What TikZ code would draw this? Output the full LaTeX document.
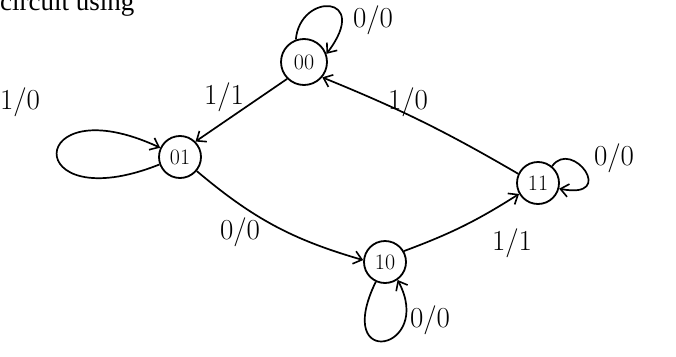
\documentclass[tikz,border=0pt]{standalone}
\usepackage{fontspec}
\newfontfamily\headfont{Liberation Serif}
\usetikzlibrary{arrows.meta}
\begin{document}
\begin{tikzpicture}[x=1pt,y=-1pt,
  state/.style={draw,circle,line width=1.8pt,minimum size=42pt,inner sep=0pt,font=\fontsize{22}{22}\selectfont},
  edge/.style={line width=1.7pt,-{Straight Barb[length=8pt,width=13pt,line width=1.6pt]}},
  lbl/.style={font=\fontsize{29}{29}\selectfont,inner sep=1pt}]
\useasboundingbox (0,0) rectangle (676,356);
\clip (0,0) rectangle (676,356);
\node[anchor=base west,font=\headfont\fontsize{27}{27}\selectfont,inner sep=0pt] (head) at (0,10) {circuit using};
\node[state,minimum size=46pt] (s00) at (304,62) {00};
\node[state] (s01) at (180,157) {01};
\node[state] (s10) at (385,262) {10};
\node[state] (s11) at (538,183) {11};
% self loops
\draw[edge] (s00.110) .. controls (300,-8) and (372,-6) .. (s00.20);
\draw[edge] (s01.200) .. controls (20,220) and (25,85) .. (s01.155);
\draw[edge] (s10.245) .. controls (332,372) and (435,350) .. (s10.305);
\draw[edge] (s11.50) .. controls (572,138) and (618,200) .. (s11.-15);
% transitions
\draw[edge] (s00.225) -- (s01.45);
\draw[edge] (s11.155) to[bend right=4] (s00.-40);
\draw[edge] (s01.-40) to[bend right=12] (s10.175);
\draw[edge] (s10.30) to[bend right=6] (s11.210);
% labels
\node[lbl] (l00) at (373,20) {0/0};
\node[lbl] (l01) at (20,102) {1/0};
\node[lbl] (l10) at (430,320) {0/0};
\node[lbl] (l11) at (614,158) {0/0};
\node[lbl] (la) at (224,97) {1/1};
\node[lbl] (lb) at (408,102) {1/0};
\node[lbl] (lc) at (240,232) {0/0};
\node[lbl] (ld) at (512,243) {1/1};
\end{tikzpicture}
\end{document}
